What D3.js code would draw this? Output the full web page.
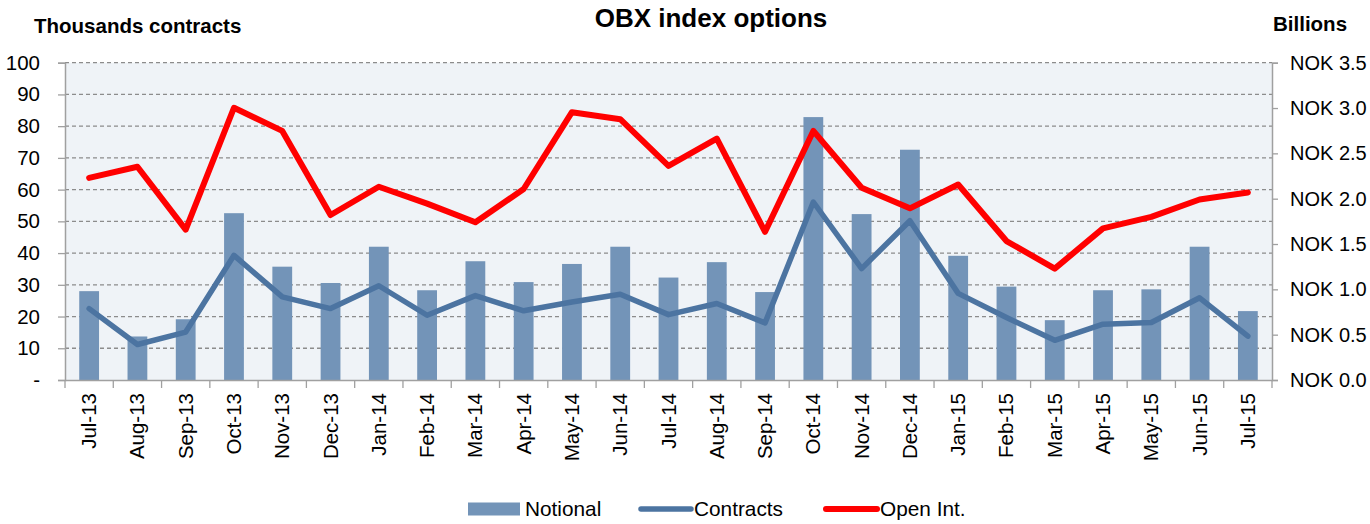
<!DOCTYPE html>
<html>
<head>
<meta charset="utf-8">
<script src="https://cdn.jsdelivr.net/npm/d3@7"></script>
<style>
  html, body { margin: 0; padding: 0; background: #fff; }
  svg { display: block; font-family: "Liberation Sans", Arial, Helvetica, sans-serif; }
</style>
</head>
<body>
<svg id="chart" width="1370" height="524"></svg>
<script>
// ---------- data ----------
const categories = ["Jul-13","Aug-13","Sep-13","Oct-13","Nov-13","Dec-13","Jan-14","Feb-14","Mar-14","Apr-14","May-14","Jun-14","Jul-14","Aug-14","Sep-14","Oct-14","Nov-14","Dec-14","Jan-15","Feb-15","Mar-15","Apr-15","May-15","Jun-15","Jul-15"];
// Notional, NOK billions (right axis)
const notional = [0.98,0.48,0.67,1.84,1.25,1.07,1.47,0.99,1.31,1.08,1.28,1.47,1.13,1.30,0.97,2.90,1.83,2.54,1.37,1.03,0.66,0.99,1.00,1.47,0.76];
// Contracts, thousands (left axis)
const contracts = [22.5,11.2,15.1,39.3,26.2,22.5,29.7,20.4,26.6,21.8,24.6,27.0,20.6,24.1,18.0,56.1,35.1,50.2,27.3,19.7,12.5,17.6,18.1,25.9,13.8];
// Open interest, thousands of contracts (left axis)
const openInt = [63.7,67.2,47.4,85.8,78.5,52.0,60.9,55.6,49.7,60.2,84.4,82.2,67.5,76.1,46.7,78.5,60.6,54.1,61.6,43.8,35.1,47.8,51.4,56.9,59.1];
const leftTicks = [0,10,20,30,40,50,60,70,80,90,100];
const rightTicks = [0,0.5,1.0,1.5,2.0,2.5,3.0,3.5];
const seriesNames = ["Notional","Contracts","Open Int."];
const titleText = "OBX index options";
const leftTitle = "Thousands contracts";
const rightTitle = "Billions";

// ---------- layout ----------
const plot = { left: 65, right: 1272, top: 62.7, bottom: 380 };
const colors = { bar: "#7394b8", contracts: "#4c74a1", openInt: "#ff0000", grid: "#8c8c8c", axis: "#a0a0a0", bg: "#eff3f7" };

const svg = d3.select("#chart");

const x = d3.scaleBand().domain(categories).range([plot.left, plot.right]).padding(0);
const yL = d3.scaleLinear().domain([0, 100]).range([plot.bottom, plot.top]);
const yR = d3.scaleLinear().domain([0, 3.5]).range([plot.bottom, plot.top]);

// background
svg.append("rect")
  .attr("x", plot.left).attr("y", plot.top)
  .attr("width", plot.right - plot.left).attr("height", plot.bottom - plot.top)
  .attr("fill", colors.bg);

// gridlines (dashed)
svg.append("g").selectAll("line")
  .data(leftTicks.filter(d => d > 0))
  .join("line")
  .attr("x1", plot.left).attr("x2", plot.right)
  .attr("y1", d => yL(d)).attr("y2", d => yL(d))
  .attr("stroke", colors.grid).attr("stroke-width", 1.3)
  .attr("stroke-dasharray", "4,3");

// left axis
const gL = svg.append("g").attr("transform", `translate(${plot.left},0)`)
  .call(d3.axisLeft(yL).tickValues(leftTicks).tickSize(7).tickPadding(18)
    .tickFormat(d => d === 0 ? "-" : d3.format("d")(d)));
gL.select(".domain").attr("stroke", colors.axis).attr("stroke-width", 1.5);
gL.selectAll(".tick line").attr("stroke", colors.axis).attr("stroke-width", 1.3);
gL.selectAll(".tick text").attr("font-size", 20.5).attr("fill", "#000")
  .attr("font-family", "Liberation Sans, Arial, sans-serif");

// right axis
const gR = svg.append("g").attr("transform", `translate(${plot.right},0)`)
  .call(d3.axisRight(yR).tickValues(rightTicks).tickSize(6).tickPadding(12)
    .tickFormat(d => "NOK " + d3.format(".1f")(d)));
gR.select(".domain").attr("stroke", colors.axis).attr("stroke-width", 1.5);
gR.selectAll(".tick line").attr("stroke", colors.axis).attr("stroke-width", 1.3);
gR.selectAll(".tick text").attr("font-size", 20).attr("fill", "#000")
  .attr("font-family", "Liberation Sans, Arial, sans-serif");

// bars
const barFrac = 0.41;
svg.append("g").selectAll("rect")
  .data(categories)
  .join("rect")
  .attr("x", (c) => x(c) + x.bandwidth() * (1 - barFrac) / 2)
  .attr("width", x.bandwidth() * barFrac)
  .attr("y", (c, i) => yR(notional[i]))
  .attr("height", (c, i) => yR(0) - yR(notional[i]))
  .attr("fill", colors.bar);

// bottom axis
const gB = svg.append("g").attr("transform", `translate(0,${plot.bottom})`)
  .call(d3.axisBottom(x).tickSize(0).tickPadding(0));
gB.select(".domain").attr("stroke", colors.axis).attr("stroke-width", 1.5);
gB.selectAll(".tick line").remove();
gB.selectAll(".tick text")
  .attr("font-size", 20.5).attr("fill", "#000")
  .attr("font-family", "Liberation Sans, Arial, sans-serif")
  .attr("transform", "translate(7,13) rotate(-90)")
  .attr("text-anchor", "end")
  .attr("dy", "0");
// category separator ticks
const bounds = categories.map(c => x(c)).concat([plot.right]);
gB.append("g").selectAll("line")
  .data(bounds)
  .join("line")
  .attr("x1", d => d).attr("x2", d => d)
  .attr("y1", 0).attr("y2", 8)
  .attr("stroke", colors.axis).attr("stroke-width", 1.3);

// lines
const lineL = d3.line().x((d, i) => x(categories[i]) + x.bandwidth() / 2).y(d => yL(d));
svg.append("path").datum(contracts)
  .attr("d", lineL).attr("fill", "none")
  .attr("stroke", colors.contracts).attr("stroke-width", 5.5)
  .attr("stroke-linejoin", "round").attr("stroke-linecap", "round");
svg.append("path").datum(openInt)
  .attr("d", lineL).attr("fill", "none")
  .attr("stroke", colors.openInt).attr("stroke-width", 6)
  .attr("stroke-linejoin", "round").attr("stroke-linecap", "round");

// titles
svg.append("text").attr("x", 711).attr("y", 27).attr("text-anchor", "middle")
  .attr("font-size", 26).attr("font-weight", "bold").text(titleText);
svg.append("text").attr("x", 34).attr("y", 33).attr("text-anchor", "start")
  .attr("font-size", 20.5).attr("font-weight", "bold").text(leftTitle);
svg.append("text").attr("x", 1273).attr("y", 31).attr("text-anchor", "start")
  .attr("font-size", 20.5).attr("font-weight", "bold").text(rightTitle);

// legend
const leg = svg.append("g");
const legY = 509;
leg.append("rect").attr("x", 468).attr("y", legY - 6.5).attr("width", 52).attr("height", 13).attr("fill", colors.bar);
leg.append("text").attr("x", 525).attr("y", legY + 7).attr("font-size", 20.8).text(seriesNames[0]);
leg.append("line").attr("x1", 641).attr("x2", 691).attr("y1", legY).attr("y2", legY)
  .attr("stroke", colors.contracts).attr("stroke-width", 5.5).attr("stroke-linecap", "round");
leg.append("text").attr("x", 694).attr("y", legY + 7).attr("font-size", 20.8).text(seriesNames[1]);
leg.append("line").attr("x1", 826).attr("x2", 877).attr("y1", legY).attr("y2", legY)
  .attr("stroke", colors.openInt).attr("stroke-width", 6).attr("stroke-linecap", "round");
leg.append("text").attr("x", 880).attr("y", legY + 7).attr("font-size", 20.8).text(seriesNames[2]);
</script>
</body>
</html>
